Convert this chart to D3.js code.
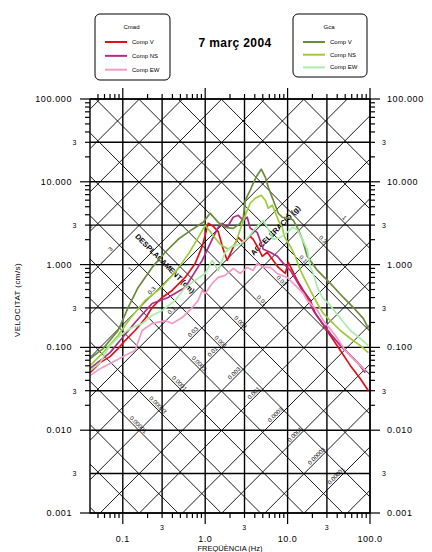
<!DOCTYPE html>
<html>
<head>
<meta charset="utf-8">
<script src="https://cdn.jsdelivr.net/npm/d3@7"></script>
<style>
  body { margin: 0; background: #fff; }
  text { font-family: "Liberation Sans", Arial, sans-serif; fill: #000; }
</style>
</head>
<body>
<div class="canvas"></div>
<script>
// ---- data (frequency Hz, velocity cm/s) ----
const cmadV = [[0.0401,0.0496],[0.053,0.0655],[0.070,0.0774],[0.0877,0.0967],[0.1067,0.121],[0.141,0.160],
  [0.187,0.223],[0.227,0.303],[0.300,0.401],[0.397,0.487],[0.571,0.70],[0.756,1.034],[0.920,1.66],[1.088,3.15],
  [1.251,2.90],[1.439,2.50],[1.655,1.53],[1.85,1.124],[2.13,1.53],[2.52,2.13],[2.90,1.86],[3.52,2.19],[3.83,2.02],
  [4.28,1.66],[4.93,1.26],[5.67,1.41],[6.70,1.124],[7.71,0.925],[9.38,0.782],[10.2,1.063],[11.4,0.851],[13.1,0.644],
  [15.5,0.487],[18.9,0.369],[21.7,0.257],[24.96,0.211],[33.0,0.139],[43.7,0.0915],[57.8,0.0602],[76.4,0.0419],[95.6,0.030]];

const cmadNS = [[0.0401,0.0554],[0.053,0.0692],[0.070,0.0865],[0.0927,0.121],[0.141,0.1997],[0.227,0.339],
  [0.355,0.401],[0.571,0.530],[0.920,1.124],[1.216,2.02],[1.439,2.82],[1.609,3.15],[1.85,2.82],[2.19,3.73],[2.52,3.94],
  [2.90,3.43],[3.24,3.73],[3.52,2.74],[4.28,2.45],[5.07,1.53],[6.16,1.41],[7.50,1.26],[8.87,1.034],[10.8,0.851],
  [14.3,0.530],[17.3,0.401],[20.5,0.279],[24.96,0.211],[33.0,0.147],[43.7,0.105],[57.8,0.0796],[72.3,0.0637],[87.9,0.0496]];

const cmadEW = [[0.0401,0.0456],[0.053,0.0554],[0.0741,0.0655],[0.1067,0.0796],[0.141,0.0915],[0.1716,0.160],
  [0.227,0.194],[0.327,0.211],[0.397,0.194],[0.526,0.2295],[0.695,0.303],[0.822,0.369],[0.920,0.487],[1.0,0.448],
  [1.216,0.592],[1.439,0.70],[1.75,0.740],[2.19,0.90],[2.66,0.782],[3.24,0.925],[3.83,0.851],[4.28,1.034],[5.07,0.925],
  [6.16,0.925],[7.50,0.782],[9.91,0.70],[13.1,0.530],[15.5,0.448],[17.3,0.369],[23.0,0.279],[27.1,0.211],[38.0,0.139],
  [50.2,0.0915],[66.5,0.0692],[87.9,0.0524]];

const gcaV = [[0.0401,0.0732],[0.0576,0.0967],[0.0877,0.160],[0.116,0.303],[0.1535,0.530],[0.227,0.925],
  [0.327,1.41],[0.470,2.02],[0.695,2.66],[0.946,3.24],[1.15,4.17],[1.439,3.24],[1.75,2.82],[2.19,2.74],[2.66,3.15],
  [2.90,3.73],[3.06,5.98],[3.52,7.91],[3.83,9.62],[4.28,12.0],[4.79,14.2],[5.36,11.4],[5.83,8.60],[6.70,5.98],
  [7.71,4.17],[8.62,3.73],[10.8,3.62],[11.7,3.43],[13.1,2.82],[15.1,2.02],[17.3,1.26],[23.0,0.851],[33.0,0.592],
  [47.5,0.401],[62.8,0.303],[83.2,0.223],[95.6,0.169]];

const gcaNS = [[0.0401,0.0602],[0.0576,0.0865],[0.0877,0.139],[0.1227,0.223],[0.187,0.369],[0.284,0.515],
  [0.432,0.805],[0.621,1.33],[0.80,2.02],[1.0,2.98],[1.216,2.32],[1.521,1.76],[1.904,1.53],[2.315,1.76],[2.66,2.66],
  [3.06,3.94],[3.52,5.51],[4.05,6.33],[4.79,6.88],[5.36,5.98],[5.83,4.79],[6.52,5.21],[7.09,4.28],[7.71,3.43],
  [8.62,2.82],[9.12,2.19],[10.8,1.66],[12.4,1.26],[14.3,0.851],[16.4,0.644],[18.9,0.487],[23.0,0.339],[27.1,0.257],
  [33.0,0.211],[43.7,0.160],[57.8,0.128],[76.4,0.105],[95.6,0.0865]];

const gcaEW = [[0.0401,0.0524],[0.053,0.0655],[0.070,0.105],[0.0927,0.139],[0.1227,0.169],[0.1716,0.194],
  [0.227,0.243],[0.300,0.279],[0.432,0.369],[0.571,0.530],[0.756,0.644],[1.0,0.782],[1.216,1.124],[1.439,0.851],
  [1.75,1.41],[2.13,1.66],[2.66,1.76],[3.33,2.13],[4.05,2.74],[4.66,3.15],[5.07,3.43],[5.83,2.66],[6.70,2.02],
  [8.15,2.13],[9.91,2.45],[11.4,2.82],[13.1,2.66],[15.1,2.02],[17.3,1.53],[18.9,0.925],[20.5,0.782],[23.0,0.530],
  [26.4,0.401],[33.0,0.321],[43.7,0.223],[57.8,0.160],[76.4,0.128],[95.6,0.105]];

// grid and tick values
const xGridValues = [0.1, 0.3, 1, 3, 10, 30, 100];
const xTickLabels = ['0.1', '3', '1.0', '3', '10.0', '3', '100.0'];
const yGridValues = [100, 30, 10, 3, 1, 0.3, 0.1, 0.03, 0.01, 0.003, 0.001];
const yTickLabels = ['100.000', '3', '10.000', '3', '1.000', '3', '0.100', '3', '0.010', '3', '0.001'];

// tripartite diagonals: displacement (cm) and acceleration (g)
const dispValues = [1e-6, 3e-6, 1e-5, 3e-5, 1e-4, 3e-4, 1e-3, 3e-3, 0.01, 0.03, 0.1, 0.3, 1, 3, 10, 30, 100, 300];
const accValues = [1e-7, 3e-7, 1e-6, 3e-6, 1e-5, 3e-5, 1e-4, 3e-4, 1e-3, 3e-3, 0.01, 0.03, 0.1, 0.3, 1, 3, 10];
const dispLabels = ['10', '3', '1', '0.3', '0.1', '0.03', '0.01', '0.003', '0.001', '0.0003', '0.0001', '0.00003', '0.00001'];
const accLabels = ['1', '0.3', '0.1', '0.03', '0.01', '0.003', '0.001', '0.0003', '0.0001', '0.00003', '0.00001'];
const dispLabelRowAcc = 0.0007;   // labels of displacement lines sit on this acceleration line
const accLabelRowDisp = 0.012;    // labels of acceleration lines sit on this displacement line

const series = [
  { name: 'Cmad V', data: cmadV, color: '#e0101a' },
  { name: 'Cmad NS', data: cmadNS, color: '#b02c86' },
  { name: 'Cmad EW', data: cmadEW, color: '#f29bc6' },
  { name: 'Gca V', data: gcaV, color: '#6b8c3a' },
  { name: 'Gca NS', data: gcaNS, color: '#9dcb3a' },
  { name: 'Gca EW', data: gcaEW, color: '#a8eea8' }
];
const legends = [
  { title: 'Cmad', items: ['Comp V', 'Comp NS', 'Comp EW'], colors: series.slice(0, 3).map(s => s.color), x: 95, y: 14, w: 75, h: 66 },
  { title: 'Gca', items: ['Comp V', 'Comp NS', 'Comp EW'], colors: series.slice(3).map(s => s.color), x: 293, y: 14, w: 74, h: 63 }
];

const G = 981; // cm/s2
const svgWidth = 432;
const svgHeight = 552;
const margin = { top: 99, right: 62, bottom: 39, left: 90 };
const graphWidth = svgWidth - margin.left - margin.right;
const graphHeight = svgHeight - margin.top - margin.bottom;

const svg = d3.select('.canvas')
  .append('svg')
  .attr('width', svgWidth)
  .attr('height', svgHeight);

const graph = svg.append('g')
  .attr('transform', `translate(${margin.left}, ${margin.top})`);

const x = d3.scaleLog().domain([0.04, 100]).range([0, graphWidth]);
const y = d3.scaleLog().domain([0.001, 100]).range([graphHeight, 0]);

svg.append('defs').append('clipPath').attr('id', 'plotClip')
  .append('rect').attr('width', graphWidth).attr('height', graphHeight);

const [fMin, fMax] = x.domain();

// diagonals
const diag = graph.append('g').attr('clip-path', 'url(#plotClip)')
  .attr('stroke', '#000').attr('stroke-width', 0.9);

diag.selectAll('.disp-line')
  .data(dispValues)
  .enter().append('line')
  .attr('class', 'disp-line')
  .attr('x1', x(fMin)).attr('y1', d => y(2 * Math.PI * fMin * d))
  .attr('x2', x(fMax)).attr('y2', d => y(2 * Math.PI * fMax * d));

diag.selectAll('.acc-line')
  .data(accValues)
  .enter().append('line')
  .attr('class', 'acc-line')
  .attr('x1', x(fMin)).attr('y1', d => y(d * G / (2 * Math.PI * fMin)))
  .attr('x2', x(fMax)).attr('y2', d => y(d * G / (2 * Math.PI * fMax)));

// vertical & horizontal grid
graph.selectAll('.xgrid')
  .data(xGridValues)
  .enter().append('line')
  .attr('class', 'xgrid')
  .attr('x1', d => x(d)).attr('x2', d => x(d))
  .attr('y1', 0).attr('y2', graphHeight)
  .attr('stroke', '#000').attr('stroke-width', 1.4);

graph.selectAll('.ygrid')
  .data(yGridValues)
  .enter().append('line')
  .attr('class', 'ygrid')
  .attr('x1', 0).attr('x2', graphWidth)
  .attr('y1', d => y(d)).attr('y2', d => y(d))
  .attr('stroke', '#000').attr('stroke-width', 1.4);

// diagonal labels
const labels = graph.append('g').attr('clip-path', 'url(#plotClip)');

labels.selectAll('.disp-label')
  .data(dispLabels)
  .enter().append('text')
  .attr('class', 'disp-label')
  .attr('font-size', 6)
  .attr('text-anchor', 'middle')
  .attr('transform', d => {
    const w = Math.sqrt(dispLabelRowAcc * G / +d);
    const px = x(w / (2 * Math.PI));
    const py = y(w * +d);
    return `translate(${px},${py}) rotate(-45) translate(0,-1.5)`;
  })
  .text(d => d);

labels.selectAll('.acc-label')
  .data(accLabels)
  .enter().append('text')
  .attr('class', 'acc-label')
  .attr('font-size', 6)
  .attr('text-anchor', 'middle')
  .attr('transform', d => {
    const w = Math.sqrt(+d * G / accLabelRowDisp);
    const px = x(w / (2 * Math.PI));
    const py = y(w * accLabelRowDisp);
    return `translate(${px},${py}) rotate(45) translate(0,-1.5)`;
  })
  .text(d => d);

labels.append('text')
  .attr('font-size', 7.5).attr('font-weight', 'bold').attr('text-anchor', 'middle')
  .attr('transform', `translate(${x(0.309)},${y(0.978)}) rotate(45)`)
  .text('DESPLAÇAMENT (cm)');

labels.append('text')
  .attr('font-size', 7.5).attr('font-weight', 'bold').attr('text-anchor', 'middle')
  .attr('transform', `translate(${x(7.5)},${y(2.45)}) rotate(-45)`)
  .text('ACCELERACIÓ (g)');

// spectra
const line = d3.line()
  .x(d => x(d[0]))
  .y(d => y(d[1]));

graph.append('g').attr('clip-path', 'url(#plotClip)')
  .selectAll('.spectrum')
  .data(series)
  .enter().append('path')
  .attr('class', 'spectrum')
  .attr('d', d => line(d.data))
  .attr('fill', 'none')
  .attr('stroke', d => d.color)
  .attr('stroke-width', 1.7)
  .attr('stroke-linejoin', 'round');

// frame
graph.append('rect')
  .attr('width', graphWidth).attr('height', graphHeight)
  .attr('fill', 'none').attr('stroke', '#000').attr('stroke-width', 1.4);

// ticks (outward)
const minorX = [], minorY = [];
for (let k = -2; k <= 2; k++) {
  for (let m = 2; m <= 9; m++) {
    const v = m * Math.pow(10, k);
    if (v > fMin && v < fMax) minorX.push(v);
    if (v > 0.001 && v < 100) minorY.push(v);
  }
}
const majorX = [0.1, 1, 10, 100];
const majorY = [0.001, 0.01, 0.1, 1, 10, 100];
const ticks = graph.append('g').attr('stroke', '#000').attr('stroke-width', 1.2);

[[0, -1], [graphHeight, 1]].forEach(([yy, dir]) => {
  ticks.selectAll(null).data(minorX).enter().append('line')
    .attr('x1', d => x(d)).attr('x2', d => x(d))
    .attr('y1', yy).attr('y2', yy + dir * 5);
  ticks.selectAll(null).data(majorX).enter().append('line')
    .attr('x1', d => x(d)).attr('x2', d => x(d))
    .attr('y1', yy).attr('y2', yy + dir * 11);
});
[[0, -1], [graphWidth, 1]].forEach(([xx, dir]) => {
  ticks.selectAll(null).data(minorY).enter().append('line')
    .attr('y1', d => y(d)).attr('y2', d => y(d))
    .attr('x1', xx).attr('x2', xx + dir * 5);
  ticks.selectAll(null).data(majorY).enter().append('line')
    .attr('y1', d => y(d)).attr('y2', d => y(d))
    .attr('x1', xx).attr('x2', xx + dir * 10);
});

// tick labels
graph.selectAll('.xlabel')
  .data(xGridValues)
  .enter().append('text')
  .attr('class', 'xlabel')
  .attr('x', d => x(d))
  .attr('y', (d, i) => xTickLabels[i] === '3' ? graphHeight + 17 : graphHeight + 29)
  .attr('font-size', (d, i) => xTickLabels[i] === '3' ? 7 : 9)
  .attr('letter-spacing', 0.5)
  .attr('text-anchor', 'middle')
  .text((d, i) => xTickLabels[i]);

graph.selectAll('.ylabel-left')
  .data(yGridValues)
  .enter().append('text')
  .attr('class', 'ylabel-left')
  .attr('x', (d, i) => yTickLabels[i] === '3' ? -13 : -18)
  .attr('y', d => y(d) + 3)
  .attr('font-size', (d, i) => yTickLabels[i] === '3' ? 7 : 9)
  .attr('letter-spacing', 0.6)
  .attr('text-anchor', 'end')
  .text((d, i) => yTickLabels[i]);

graph.selectAll('.ylabel-right')
  .data(yGridValues)
  .enter().append('text')
  .attr('class', 'ylabel-right')
  .attr('x', (d, i) => yTickLabels[i] === '3' ? graphWidth + 12 : graphWidth + 17)
  .attr('y', d => y(d) + 3)
  .attr('font-size', (d, i) => yTickLabels[i] === '3' ? 7 : 9)
  .attr('letter-spacing', 0.6)
  .attr('text-anchor', 'start')
  .text((d, i) => yTickLabels[i]);

// axis titles
svg.append('text')
  .attr('x', margin.left + graphWidth / 2).attr('y', 551)
  .attr('font-size', 7.5).attr('text-anchor', 'middle')
  .text('FREQÜÈNCIA (Hz)');

svg.append('text')
  .attr('transform', `translate(20, ${margin.top + graphHeight / 2 - 6}) rotate(-90)`)
  .attr('font-size', 8).attr('text-anchor', 'middle').attr('letter-spacing', 0.4)
  .text('VELOCITAT (cm/s)');

// title
svg.append('text')
  .attr('x', 235).attr('y', 47)
  .attr('font-size', 12).attr('font-weight', 'bold').attr('text-anchor', 'middle')
  .attr('letter-spacing', 0.4)
  .text('7 març 2004');

// legends
legends.forEach(lg => {
  const g = svg.append('g').attr('transform', `translate(${lg.x}, ${lg.y})`);
  g.append('rect')
    .attr('width', lg.w).attr('height', lg.h).attr('rx', 5)
    .attr('fill', '#fff').attr('stroke', '#000').attr('stroke-width', 1);
  g.append('text')
    .attr('x', lg.w / 2 - 1).attr('y', 15)
    .attr('font-size', 6).attr('text-anchor', 'middle')
    .text(lg.title);
  lg.items.forEach((it, i) => {
    const yy = 28 + i * (lg.h - 30) / 2.6;
    g.append('line')
      .attr('x1', 10).attr('x2', 32).attr('y1', yy).attr('y2', yy)
      .attr('stroke', lg.colors[i]).attr('stroke-width', 2);
    g.append('text')
      .attr('x', 37).attr('y', yy + 2)
      .attr('font-size', 6)
      .text(it);
  });
});
</script>
</body>
</html>
